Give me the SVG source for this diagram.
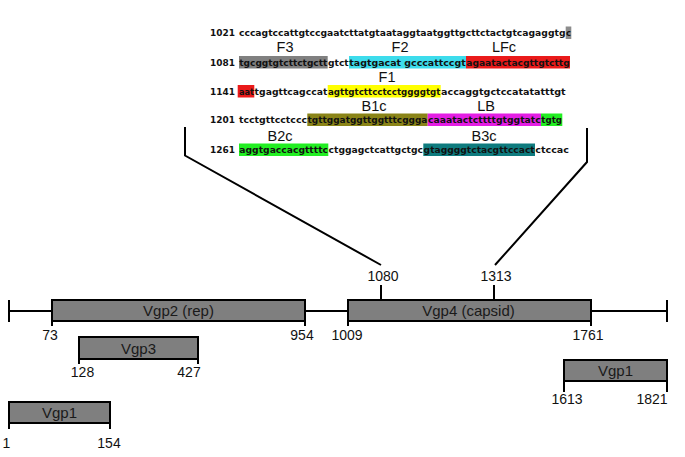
<svg xmlns="http://www.w3.org/2000/svg" width="685" height="457" viewBox="0 0 685 457">
<style>
.seq{font-family:"DejaVu Sans","Verdana",sans-serif;font-weight:bold;font-size:9px;fill:#111}
.lbl{font-family:"Liberation Sans",Arial,sans-serif;font-size:14.5px;fill:#111;text-anchor:middle}
.num{font-family:"Liberation Sans",Arial,sans-serif;font-size:14px;fill:#111;text-anchor:middle}
.bl{font-family:"Liberation Sans",Arial,sans-serif;font-size:15px;fill:#1a1a1a;text-anchor:middle}
.box{fill:#7f7f7f;stroke:#000;stroke-width:2}
.ln{stroke:#000;stroke-width:2;fill:none}
</style>
<rect width="685" height="457" fill="#fff"/>
<g id="sequence">
  <text class="seq" x="210" y="36" textLength="25" lengthAdjust="spacingAndGlyphs">1021</text>
  <text class="seq" x="239" y="36" textLength="326.5" lengthAdjust="spacingAndGlyphs">cccagtccattgtccgaatcttatgtaataggtaatggttgcttctactgtcagaggtg</text>
  <rect x="565.7" y="26.5" width="5.6" height="12.5" fill="#8c8c8c"/>
  <text class="seq" x="566" y="36" textLength="5" lengthAdjust="spacingAndGlyphs">c</text>
  <text class="seq" x="210" y="65.5" textLength="25" lengthAdjust="spacingAndGlyphs">1081</text>
  <rect x="239" y="56" width="88.7" height="12.5" fill="#808080"/>
  <text class="seq" x="239.3" y="65.5" textLength="88" lengthAdjust="spacingAndGlyphs">tgcggtgtcttctgctt</text>
  <text class="seq" x="328" y="65.5" textLength="20.7" lengthAdjust="spacingAndGlyphs">gtct</text>
  <rect x="349" y="56" width="117" height="12.5" fill="#3ddcec"/>
  <text class="seq" x="349.3" y="65.5" textLength="116.4" lengthAdjust="spacingAndGlyphs">tagtgacat gcccattccgt</text>
  <rect x="466" y="56" width="104" height="12.5" fill="#ea1a1a"/>
  <text class="seq" x="466.3" y="65.5" textLength="103.4" lengthAdjust="spacingAndGlyphs">agaatactacgttgtcttg</text>
  <text class="seq" x="210" y="94.5" textLength="25" lengthAdjust="spacingAndGlyphs">1141</text>
  <rect x="237.7" y="85" width="16.6" height="12.5" fill="#ea1a1a"/>
  <text class="seq" x="239" y="94.5" textLength="15" lengthAdjust="spacingAndGlyphs">aat</text>
  <text class="seq" x="254.6" y="94.5" textLength="72.8" lengthAdjust="spacingAndGlyphs">tgagttcagccat</text>
  <rect x="327.7" y="85" width="113" height="12.5" fill="#ffff00"/>
  <text class="seq" x="328" y="94.5" textLength="112.4" lengthAdjust="spacingAndGlyphs">agttgtcttcctcctggggtgt</text>
  <text class="seq" x="441" y="94.5" textLength="124.7" lengthAdjust="spacingAndGlyphs">accaggtgctccatatatttgt</text>
  <text class="seq" x="210" y="123" textLength="25" lengthAdjust="spacingAndGlyphs">1201</text>
  <text class="seq" x="239" y="123" textLength="68" lengthAdjust="spacingAndGlyphs">tcctgttcctccc</text>
  <rect x="307.3" y="113.5" width="120.4" height="12.5" fill="#8a8418"/>
  <text class="seq" x="307.6" y="123" textLength="119.8" lengthAdjust="spacingAndGlyphs">tgttggatggttggtttcggga</text>
  <rect x="427.7" y="113.5" width="113.3" height="12.5" fill="#e41ee4"/>
  <text class="seq" x="428" y="123" textLength="112.7" lengthAdjust="spacingAndGlyphs">caaatactcttttgtggtatc</text>
  <rect x="541" y="113.5" width="21.3" height="12.5" fill="#22ee22"/>
  <text class="seq" x="541.3" y="123" textLength="20.7" lengthAdjust="spacingAndGlyphs">tgtg</text>
  <text class="seq" x="210" y="153" textLength="25" lengthAdjust="spacingAndGlyphs">1261</text>
  <rect x="239" y="143.5" width="89.3" height="12.5" fill="#22ee22"/>
  <text class="seq" x="239.3" y="153" textLength="88.7" lengthAdjust="spacingAndGlyphs">aggtgaccacgttttc</text>
  <text class="seq" x="328.6" y="153" textLength="94.4" lengthAdjust="spacingAndGlyphs">ctggagctcattgctgc</text>
  <rect x="423.3" y="143.5" width="111.7" height="12.5" fill="#0e7b7e"/>
  <text class="seq" x="423.6" y="153" textLength="111.1" lengthAdjust="spacingAndGlyphs">gtaggggtctacgttccact</text>
  <text class="seq" x="535.3" y="153" textLength="33.7" lengthAdjust="spacingAndGlyphs">ctccac</text>
  <text class="lbl" x="285" y="52">F3</text>
  <text class="lbl" x="400" y="52">F2</text>
  <text class="lbl" x="504" y="52">LFc</text>
  <text class="lbl" x="387" y="81.5">F1</text>
  <text class="lbl" x="374" y="110.5">B1c</text>
  <text class="lbl" x="486" y="110.5">LB</text>
  <text class="lbl" x="280" y="140.5">B2c</text>
  <text class="lbl" x="484" y="140.5">B3c</text>
</g>
<g id="connectors">
  <polyline class="ln" points="185,127 185,155.5 381,265"/>
  <polyline class="ln" points="587,128 587,162 495,265"/>
</g>
<g id="genome">
  <line class="ln" x1="9" y1="311" x2="667" y2="311"/>
  <line class="ln" x1="9" y1="300" x2="9" y2="322"/>
  <line class="ln" x1="667" y1="300" x2="667" y2="322"/>
  <line class="ln" x1="381" y1="285" x2="381" y2="300"/>
  <line class="ln" x1="494" y1="285" x2="494" y2="300"/>
  <text class="num" x="383" y="281">1080</text>
  <text class="num" x="496" y="281">1313</text>
</g>
<g id="vgp2">
  <rect class="box" x="52" y="300" width="253" height="21"/>
  <line class="ln" x1="52" y1="320" x2="52" y2="326"/>
  <line class="ln" x1="305" y1="320" x2="305" y2="326"/>
  <text class="bl" x="178.5" y="316">Vgp2 (rep)</text>
  <text class="num" x="50" y="340">73</text>
  <text class="num" x="302" y="340">954</text>
</g>
<g id="vgp4">
  <rect class="box" x="348" y="300" width="243" height="21"/>
  <line class="ln" x1="348" y1="320" x2="348" y2="326"/>
  <line class="ln" x1="591" y1="320" x2="591" y2="326"/>
  <text class="bl" x="468.5" y="316">Vgp4 (capsid)</text>
  <text class="num" x="347" y="340">1009</text>
  <text class="num" x="588" y="340">1761</text>
</g>
<g id="vgp3">
  <rect class="box" x="79" y="337" width="119" height="22"/>
  <line class="ln" x1="79" y1="358" x2="79" y2="364"/>
  <line class="ln" x1="198" y1="358" x2="198" y2="364"/>
  <text class="bl" x="138.5" y="353.5">Vgp3</text>
  <text class="num" x="82.5" y="377">128</text>
  <text class="num" x="189" y="377">427</text>
</g>
<g id="vgp1-left">
  <rect class="box" x="9" y="402" width="101" height="21"/>
  <line class="ln" x1="9" y1="422" x2="9" y2="429"/>
  <line class="ln" x1="110" y1="422" x2="110" y2="429"/>
  <text class="bl" x="59.5" y="418">Vgp1</text>
  <text class="num" x="6.5" y="448">1</text>
  <text class="num" x="109" y="448">154</text>
</g>
<g id="vgp1-right">
  <rect class="box" x="564" y="360" width="103" height="21"/>
  <line class="ln" x1="564" y1="380" x2="564" y2="392"/>
  <line class="ln" x1="667" y1="380" x2="667" y2="392"/>
  <text class="bl" x="615.5" y="376">Vgp1</text>
  <text class="num" x="567" y="404">1613</text>
  <text class="num" x="652" y="404">1821</text>
</g>
</svg>
